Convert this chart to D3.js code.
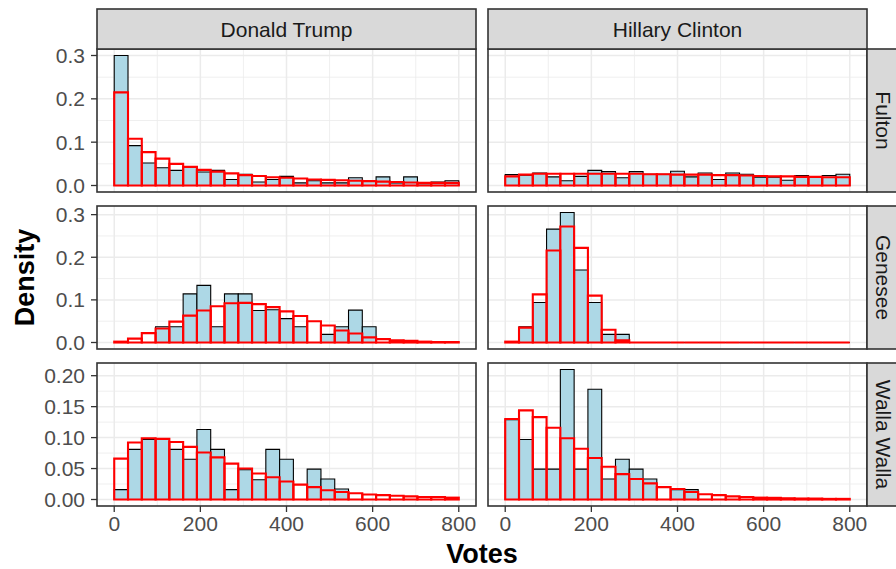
<!DOCTYPE html>
<html>
<head>
<meta charset="utf-8">
<script src="https://cdn.jsdelivr.net/npm/d3@7"></script>
<style>
  body { margin: 0; background: #fff; }
  svg { display: block; font-family: "Liberation Sans", Arial, Helvetica, sans-serif; }
</style>
</head>
<body>
<svg id="svg" width="896" height="569"></svg>
<script>
const candidates = ["Donald Trump", "Hillary Clinton"];
const counties = ["Fulton", "Genesee", "Walla Walla"];

const binStart = [0, 32, 64, 96, 128, 160, 192, 224, 256, 288, 320, 352, 384,
  416, 448, 480, 512, 544, 576, 608, 640, 672, 704, 736, 768];
const binWidth = 32;

const xTicks = [0, 200, 400, 600, 800];
const xMinor = [100, 300, 500, 700];
const yTicks = [[0, 0.1, 0.2, 0.3], [0, 0.1, 0.2, 0.3], [0, 0.05, 0.1, 0.15, 0.2]];
const yFormat = [".1f", ".1f", ".2f"];

// observed density (light blue) and fitted density (red outline)
const fultonTrumpObs = [0.300, 0.092, 0.052, 0.041, 0.035, 0.043, 0.031, 0.035, 0.014, 0.026, 0.008, 0.014, 0.021,
  0.006, 0.011, 0.006, 0.006, 0.018, 0.011, 0.020, 0.006, 0.020, 0.004, 0.008, 0.011];
const fultonTrumpFit = [0.215, 0.108, 0.077, 0.062, 0.050, 0.043, 0.036, 0.032, 0.028, 0.024, 0.022, 0.019, 0.018,
  0.016, 0.014, 0.013, 0.012, 0.011, 0.010, 0.009, 0.008, 0.007, 0.006, 0.006, 0.006];
const fultonClintonObs = [0.025, 0.024, 0.029, 0.020, 0.011, 0.021, 0.035, 0.032, 0.018, 0.032, 0.026, 0.026, 0.033,
  0.020, 0.029, 0.014, 0.029, 0.026, 0.019, 0.019, 0.012, 0.023, 0.019, 0.023, 0.026];
const fultonClintonFit = [0.021, 0.025, 0.027, 0.027, 0.027, 0.027, 0.027, 0.027, 0.027, 0.027, 0.026, 0.026, 0.025,
  0.025, 0.025, 0.024, 0.024, 0.023, 0.022, 0.021, 0.021, 0.020, 0.020, 0.019, 0.019];
const geneseeTrumpObs = [0, 0, 0, 0.037, 0.037, 0.114, 0.134, 0.037, 0.114, 0.114, 0.075, 0.077, 0.056,
  0.037, 0, 0.019, 0.037, 0.076, 0.037, 0, 0, 0, 0, 0, 0];
const geneseeTrumpFit = [0.002, 0.009, 0.022, 0.033, 0.049, 0.063, 0.075, 0.085, 0.092, 0.093, 0.090, 0.083, 0.073,
  0.062, 0.050, 0.040, 0.028, 0.021, 0.012, 0.008, 0.005, 0.004, 0.002, 0.001, 0.001];
const geneseeClintonObs = [0, 0.037, 0.094, 0.266, 0.305, 0.170, 0.094, 0.019, 0.019, 0, 0, 0, 0,
  0, 0, 0, 0, 0, 0, 0, 0, 0, 0, 0, 0];
const geneseeClintonFit = [0.002, 0.035, 0.113, 0.216, 0.272, 0.222, 0.110, 0.030, 0.005, 0, 0, 0, 0,
  0, 0, 0, 0, 0, 0, 0, 0, 0, 0, 0, 0];
const wallaTrumpObs = [0.016, 0.081, 0.097, 0.098, 0.081, 0.065, 0.113, 0.081, 0.016, 0.048, 0.032, 0.081, 0.065,
  0, 0.049, 0.033, 0.017, 0, 0, 0, 0, 0, 0, 0, 0];
const wallaTrumpFit = [0.066, 0.092, 0.099, 0.098, 0.093, 0.085, 0.076, 0.068, 0.058, 0.050, 0.042, 0.036, 0.029,
  0.024, 0.020, 0.015, 0.012, 0.010, 0.008, 0.007, 0.006, 0.005, 0.004, 0.004, 0.003];
const wallaClintonObs = [0.129, 0.097, 0.049, 0.049, 0.210, 0.049, 0.178, 0.033, 0.065, 0.049, 0.033, 0, 0.016,
  0.016, 0, 0, 0, 0, 0, 0, 0, 0, 0, 0, 0];
const wallaClintonFit = [0.130, 0.144, 0.133, 0.116, 0.099, 0.082, 0.067, 0.053, 0.041, 0.033, 0.026, 0.020, 0.017,
  0.012, 0.0085, 0.007, 0.005, 0.004, 0.003, 0.0027, 0.002, 0.0016, 0.0015, 0.001, 0.001];

const panels = [
  [{ obs: fultonTrumpObs, fit: fultonTrumpFit }, { obs: fultonClintonObs, fit: fultonClintonFit }],
  [{ obs: geneseeTrumpObs, fit: geneseeTrumpFit }, { obs: geneseeClintonObs, fit: geneseeClintonFit }],
  [{ obs: wallaTrumpObs, fit: wallaTrumpFit }, { obs: wallaClintonObs, fit: wallaClintonFit }]
];

const panelX = [97, 488];
const panelY = [49, 206, 363];
const panelW = 379;
const panelH = 143;
const stripSize = 40;
const tickLen = 6;
const textSize = 21;

const svg = d3.select("#svg");

const x = d3.scaleLinear().domain([-40, 840]).range([0, panelW]);

const rowMax = panels.map(row => d3.max(row, p => Math.max(d3.max(p.obs), d3.max(p.fit))));

// bars as closed paths so that zero-height bins still show their outline
const barPath = y => (d, i) => {
  const x0 = x(binStart[i]);
  const x1 = x(binStart[i] + binWidth);
  return `M${x0},${y(0)}V${y(d)}H${x1}V${y(0)}Z`;
};

panels.forEach((row, r) => {
  const y = d3
    .scaleLinear()
    .domain([-0.05 * rowMax[r], 1.05 * rowMax[r]])
    .range([panelH, 0]);
  const yMinor = yTicks[r].slice(1).map((t, i) => (t + yTicks[r][i]) / 2);

  row.forEach((p, c) => {
    const g = svg
      .append("g")
      .attr("transform", `translate(${panelX[c]},${panelY[r]})`);

    g.append("rect")
      .attr("width", panelW)
      .attr("height", panelH)
      .attr("fill", "#fff");

    g.selectAll(".minor-x")
      .data(xMinor)
      .join("line")
      .attr("x1", d => x(d))
      .attr("x2", d => x(d))
      .attr("y1", 0)
      .attr("y2", panelH)
      .attr("stroke", "#ebebeb")
      .attr("stroke-width", 0.8);
    g.selectAll(".minor-y")
      .data(yMinor)
      .join("line")
      .attr("y1", d => y(d))
      .attr("y2", d => y(d))
      .attr("x1", 0)
      .attr("x2", panelW)
      .attr("stroke", "#ebebeb")
      .attr("stroke-width", 0.8);
    g.selectAll(".major-x")
      .data(xTicks)
      .join("line")
      .attr("x1", d => x(d))
      .attr("x2", d => x(d))
      .attr("y1", 0)
      .attr("y2", panelH)
      .attr("stroke", "#ebebeb")
      .attr("stroke-width", 1.5);
    g.selectAll(".major-y")
      .data(yTicks[r])
      .join("line")
      .attr("y1", d => y(d))
      .attr("y2", d => y(d))
      .attr("x1", 0)
      .attr("x2", panelW)
      .attr("stroke", "#ebebeb")
      .attr("stroke-width", 1.5);

    g.append("g")
      .selectAll("path")
      .data(p.obs)
      .join("path")
      .attr("d", barPath(y))
      .attr("fill", "lightblue")
      .attr("stroke", "#000")
      .attr("stroke-width", 1.1);

    g.append("g")
      .selectAll("path")
      .data(p.fit)
      .join("path")
      .attr("d", barPath(y))
      .attr("fill", "none")
      .attr("stroke", "red")
      .attr("stroke-width", 2.1);

    g.append("rect")
      .attr("width", panelW)
      .attr("height", panelH)
      .attr("fill", "none")
      .attr("stroke", "#333")
      .attr("stroke-width", 1.6);

    if (c === 0) {
      const ya = g.append("g");
      ya.selectAll("line")
        .data(yTicks[r])
        .join("line")
        .attr("x1", -tickLen)
        .attr("x2", 0)
        .attr("y1", d => y(d))
        .attr("y2", d => y(d))
        .attr("stroke", "#333")
        .attr("stroke-width", 1.3);
      ya.selectAll("text")
        .data(yTicks[r])
        .join("text")
        .attr("x", -tickLen - 6)
        .attr("y", d => y(d))
        .attr("dy", "0.36em")
        .attr("text-anchor", "end")
        .attr("fill", "#4d4d4d")
        .style("font-size", textSize + "px")
        .text(d => d3.format(yFormat[r])(d));
    }

    if (r === panels.length - 1) {
      const xa = g.append("g").attr("transform", `translate(0,${panelH})`);
      xa.selectAll("line")
        .data(xTicks)
        .join("line")
        .attr("x1", d => x(d))
        .attr("x2", d => x(d))
        .attr("y1", 0)
        .attr("y2", tickLen)
        .attr("stroke", "#333")
        .attr("stroke-width", 1.3);
      xa.selectAll("text")
        .data(xTicks)
        .join("text")
        .attr("x", d => x(d))
        .attr("y", tickLen + 4)
        .attr("dy", "0.72em")
        .attr("text-anchor", "middle")
        .attr("fill", "#4d4d4d")
        .style("font-size", textSize + "px")
        .text(d => d);
    }
  });
});

// column strips
candidates.forEach((name, c) => {
  const s = svg.append("g").attr("transform", `translate(${panelX[c]},${panelY[0] - stripSize})`);
  s.append("rect")
    .attr("width", panelW)
    .attr("height", stripSize)
    .attr("fill", "#d9d9d9")
    .attr("stroke", "#333")
    .attr("stroke-width", 1.6);
  s.append("text")
    .attr("x", panelW / 2)
    .attr("y", stripSize / 2)
    .attr("dy", "0.36em")
    .attr("text-anchor", "middle")
    .attr("fill", "#1a1a1a")
    .style("font-size", textSize + "px")
    .text(name);
});

// row strips
counties.forEach((name, r) => {
  const s = svg.append("g").attr("transform", `translate(${panelX[1] + panelW},${panelY[r]})`);
  s.append("rect")
    .attr("width", stripSize)
    .attr("height", panelH)
    .attr("fill", "#d9d9d9")
    .attr("stroke", "#333")
    .attr("stroke-width", 1.6);
  s.append("text")
    .attr("transform", `translate(${stripSize / 2 - 3},${panelH / 2}) rotate(90)`)
    .attr("dy", "0.36em")
    .attr("text-anchor", "middle")
    .attr("fill", "#1a1a1a")
    .style("font-size", textSize + "px")
    .text(name);
});

svg.append("text")
  .attr("x", (panelX[0] + panelX[1] + panelW) / 2)
  .attr("y", 563)
  .attr("text-anchor", "middle")
  .style("font-size", "27px")
  .style("font-weight", "bold")
  .text("Votes");

svg.append("text")
  .attr("transform", `translate(34,${(panelY[0] + panelY[2] + panelH) / 2}) rotate(-90)`)
  .attr("text-anchor", "middle")
  .style("font-size", "27px")
  .style("font-weight", "bold")
  .text("Density");
</script>
</body>
</html>
